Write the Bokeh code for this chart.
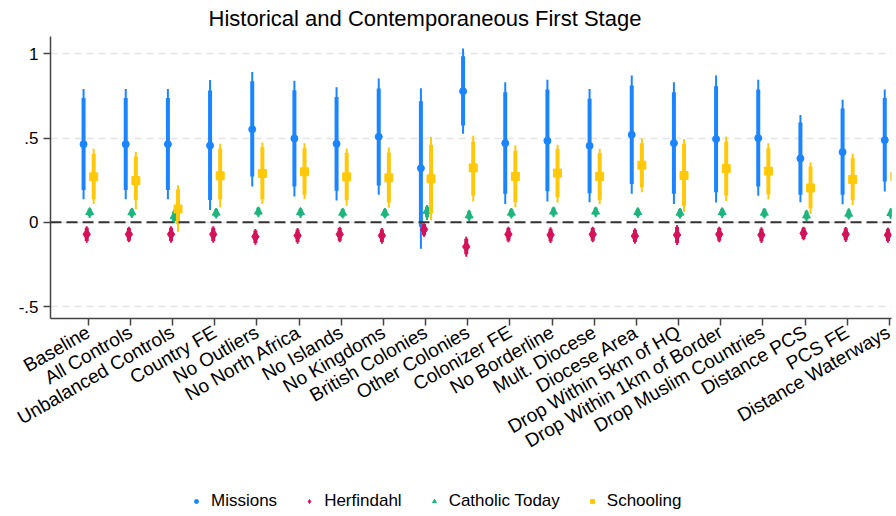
import math
from bokeh.plotting import figure
from bokeh.layouts import column
from bokeh.models import FixedTicker, Span, Legend, LegendItem, ColumnDataSource
from bokeh.embed import file_html
from bokeh.resources import INLINE

categories = ["Baseline", "All Controls", "Unbalanced Controls", "Country FE", "No Outliers",
              "No North Africa", "No Islands", "No Kingdoms", "British Colonies", "Other Colonies",
              "Colonizer FE", "No Borderline", "Mult. Diocese", "Diocese Area",
              "Drop Within 5km of HQ", "Drop Within 1km of Border", "Drop Muslim Countries",
              "Distance PCS", "PCS FE", "Distance Waterways"]

series_names = ["Missions", "Herfindahl", "Catholic Today", "Schooling"]

missions_coef = [0.464, 0.464, 0.464, 0.456, 0.552, 0.498, 0.466, 0.508, 0.321, 0.778,
                 0.470, 0.484, 0.454, 0.520, 0.470, 0.494, 0.500, 0.379, 0.417, 0.488]
missions_lo90 = [0.192, 0.192, 0.192, 0.133, 0.272, 0.212, 0.187, 0.218, -0.026, 0.575,
                 0.169, 0.185, 0.173, 0.228, 0.169, 0.179, 0.212, 0.163, 0.163, 0.242]
missions_hi90 = [0.738, 0.738, 0.738, 0.782, 0.837, 0.784, 0.744, 0.794, 0.718, 0.986,
                 0.772, 0.788, 0.734, 0.812, 0.772, 0.808, 0.788, 0.593, 0.675, 0.738]
missions_lo95 = [0.137, 0.137, 0.137, 0.073, 0.212, 0.153, 0.129, 0.163, -0.157, 0.526,
                 0.109, 0.123, 0.119, 0.169, 0.109, 0.117, 0.157, 0.119, 0.107, 0.183]
missions_hi95 = [0.792, 0.792, 0.792, 0.845, 0.893, 0.841, 0.802, 0.853, 0.796, 1.032,
                 0.831, 0.847, 0.792, 0.871, 0.831, 0.871, 0.847, 0.637, 0.728, 0.788]

herf_coef = [-0.071, -0.071, -0.071, -0.071, -0.085, -0.079, -0.071, -0.079, -0.042, -0.145,
             -0.071, -0.075, -0.071, -0.081, -0.075, -0.071, -0.075, -0.065, -0.071, -0.075]
herf_lo90 = [-0.111, -0.109, -0.111, -0.111, -0.123, -0.117, -0.109, -0.117, -0.077, -0.190,
             -0.109, -0.113, -0.109, -0.117, -0.123, -0.109, -0.113, -0.099, -0.107, -0.111]
herf_hi90 = [-0.032, -0.034, -0.032, -0.032, -0.048, -0.042, -0.034, -0.042, -0.010, -0.098,
             -0.034, -0.038, -0.034, -0.044, -0.028, -0.034, -0.038, -0.032, -0.036, -0.040]
herf_lo95 = [-0.121, -0.119, -0.121, -0.121, -0.133, -0.127, -0.119, -0.127, -0.085, -0.204,
             -0.119, -0.123, -0.119, -0.127, -0.135, -0.119, -0.123, -0.107, -0.117, -0.121]
herf_hi95 = [-0.024, -0.026, -0.024, -0.024, -0.040, -0.034, -0.026, -0.034, -0.006, -0.085,
             -0.026, -0.030, -0.026, -0.036, -0.016, -0.026, -0.030, -0.026, -0.028, -0.032]

cath_coef = [0.060, 0.058, 0.035, 0.056, 0.063, 0.060, 0.056, 0.056, 0.067, 0.040,
             0.056, 0.063, 0.063, 0.060, 0.056, 0.060, 0.056, 0.040, 0.050, 0.054]
cath_lo90 = [0.036, 0.034, 0.008, 0.032, 0.040, 0.036, 0.032, 0.032, 0.030, 0.016,
             0.032, 0.040, 0.040, 0.036, 0.032, 0.036, 0.032, 0.016, 0.026, 0.030]
cath_hi90 = [0.080, 0.078, 0.064, 0.078, 0.086, 0.080, 0.078, 0.078, 0.094, 0.066,
             0.078, 0.086, 0.086, 0.080, 0.078, 0.080, 0.078, 0.066, 0.074, 0.076]
cath_lo95 = [0.026, 0.026, -0.006, 0.022, 0.030, 0.026, 0.022, 0.022, 0.014, 0.004,
             0.022, 0.030, 0.030, 0.026, 0.022, 0.026, 0.022, 0.006, 0.016, 0.020]
cath_hi95 = [0.087, 0.085, 0.075, 0.085, 0.093, 0.087, 0.085, 0.085, 0.103, 0.075,
             0.085, 0.093, 0.093, 0.087, 0.085, 0.087, 0.085, 0.075, 0.083, 0.085]

school_coef = [0.270, 0.248, 0.079, 0.276, 0.290, 0.300, 0.270, 0.264, 0.258, 0.323,
               0.272, 0.292, 0.272, 0.339, 0.278, 0.319, 0.304, 0.204, 0.254, 0.272]
school_lo90 = [0.137, 0.133, -0.012, 0.137, 0.137, 0.163, 0.133, 0.117, 0.054, 0.159,
               0.121, 0.149, 0.133, 0.208, 0.097, 0.159, 0.167, 0.083, 0.133, 0.133]
school_hi90 = [0.407, 0.391, 0.196, 0.437, 0.446, 0.440, 0.411, 0.415, 0.460, 0.480,
               0.425, 0.435, 0.411, 0.470, 0.466, 0.480, 0.440, 0.331, 0.381, 0.437]
school_lo95 = [0.109, 0.079, -0.056, 0.089, 0.109, 0.137, 0.099, 0.087, 0.014, 0.123,
               0.089, 0.117, 0.107, 0.179, 0.063, 0.127, 0.137, 0.050, 0.103, 0.103]
school_hi95 = [0.437, 0.417, 0.220, 0.466, 0.474, 0.470, 0.438, 0.444, 0.506, 0.514,
               0.456, 0.460, 0.437, 0.498, 0.494, 0.510, 0.470, 0.357, 0.407, 0.470]

y_ticks = [-0.5, 0, 0.5, 1]
y_tick_labels = ["-.5", "0", ".5", "1"]

FONT = "Liberation Sans"
COLORS = ["#1A85FF", "#D41159", "#1DB57D", "#FFC90A"]
MARKERS = ["circle", "diamond", "triangle", "square"]
SIZES = [7, 11, 8, 8]
OFFSETS = [-0.11, -0.035, 0.035, 0.13]

p = figure(width=893, height=485, output_backend="svg", toolbar_location=None,
           x_range=(0.106, 20.05), y_range=(-0.571, 1.103),
           min_border_left=50, min_border_right=2, min_border_bottom=167, min_border_top=36,
           title="Historical and Contemporaneous First Stage")
p.title.text_font = FONT
p.title.text_font_size = "22px"
p.title.text_font_style = "normal"
p.title.text_color = "black"
p.title.align = "left"
p.title.vertical_align = "top"
p.title.offset = 158
p.title.standoff = 8

p.outline_line_color = None
p.background_fill_color = "white"
p.border_fill_color = "white"
p.xgrid.visible = False
p.ygrid.ticker = FixedTicker(ticks=y_ticks)
p.ygrid.grid_line_color = "#e4e4e4"
p.ygrid.grid_line_dash = "7 5"
p.ygrid.grid_line_width = 1.5

p.xaxis.ticker = FixedTicker(ticks=list(range(1, len(categories) + 1)))
p.xaxis.major_label_overrides = {i + 1: c for i, c in enumerate(categories)}
p.xaxis.major_label_orientation = math.radians(30)
p.yaxis.ticker = FixedTicker(ticks=y_ticks)
p.yaxis.major_label_overrides = {t: l for t, l in zip(y_ticks, y_tick_labels)}
p.yaxis.major_label_orientation = "horizontal"
for ax in (p.xaxis, p.yaxis):
    ax.axis_line_color = "#444444"
    ax.axis_line_width = 1.5
    ax.major_tick_line_color = "#444444"
    ax.major_tick_line_width = 1.5
    ax.major_tick_out = 7
    ax.major_tick_in = 0
    ax.minor_tick_line_color = None
    ax.major_label_text_font = FONT
    ax.major_label_text_color = "black"
    ax.major_label_standoff = 5
p.xaxis.major_label_text_font_size = "19px"
p.yaxis.major_label_text_font_size = "17px"

zero = Span(location=0, dimension="width", line_color="#333333", line_width=2, line_dash="11 5")
p.add_layout(zero)

series = [
    (missions_coef, missions_lo90, missions_hi90, missions_lo95, missions_hi95),
    (herf_coef, herf_lo90, herf_hi90, herf_lo95, herf_hi95),
    (cath_coef, cath_lo90, cath_hi90, cath_lo95, cath_hi95),
    (school_coef, school_lo90, school_hi90, school_lo95, school_hi95),
]

# legend strip: a small figure whose ranges keep the data out of view, used only for the key
lg = figure(width=893, height=30, output_backend="svg", toolbar_location=None,
            x_axis_type=None, y_axis_type=None, x_range=(100, 101), y_range=(100, 101),
            min_border_left=0, min_border_right=0, min_border_top=0, min_border_bottom=0)
lg.outline_line_color = None
lg.xgrid.visible = False
lg.ygrid.visible = False

items = []
for k, (coef, lo90, hi90, lo95, hi95) in enumerate(series):
    xs = [i + 1 + OFFSETS[k] for i in range(len(categories))]
    src = ColumnDataSource(dict(x=xs, coef=coef, lo90=lo90, hi90=hi90, lo95=lo95, hi95=hi95))
    p.segment(x0="x", y0="lo95", x1="x", y1="hi95", source=src,
              line_color=COLORS[k], line_width=2)
    p.segment(x0="x", y0="lo90", x1="x", y1="hi90", source=src,
              line_color=COLORS[k], line_width=4)
    p.scatter(x="x", y="coef", source=src, marker=MARKERS[k], size=SIZES[k],
              fill_color=COLORS[k], line_color=COLORS[k])
    key = lg.scatter(x="x", y="coef", source=src, marker=MARKERS[k], size=SIZES[k] - 1,
                     fill_color=COLORS[k], line_color=COLORS[k])
    items.append(LegendItem(label=series_names[k], renderers=[key]))

legend = Legend(items=items, orientation="horizontal", location=(141, 4),
                border_line_color=None, background_fill_alpha=0,
                label_text_font=FONT, label_text_font_size="17px", label_text_color="black",
                glyph_width=10, glyph_height=10, label_standoff=10, spacing=27,
                padding=0, margin=0)
lg.add_layout(legend, "center")

layout = column(p, lg, spacing=0)
open("out.html", "w").write(file_html(layout, INLINE))
